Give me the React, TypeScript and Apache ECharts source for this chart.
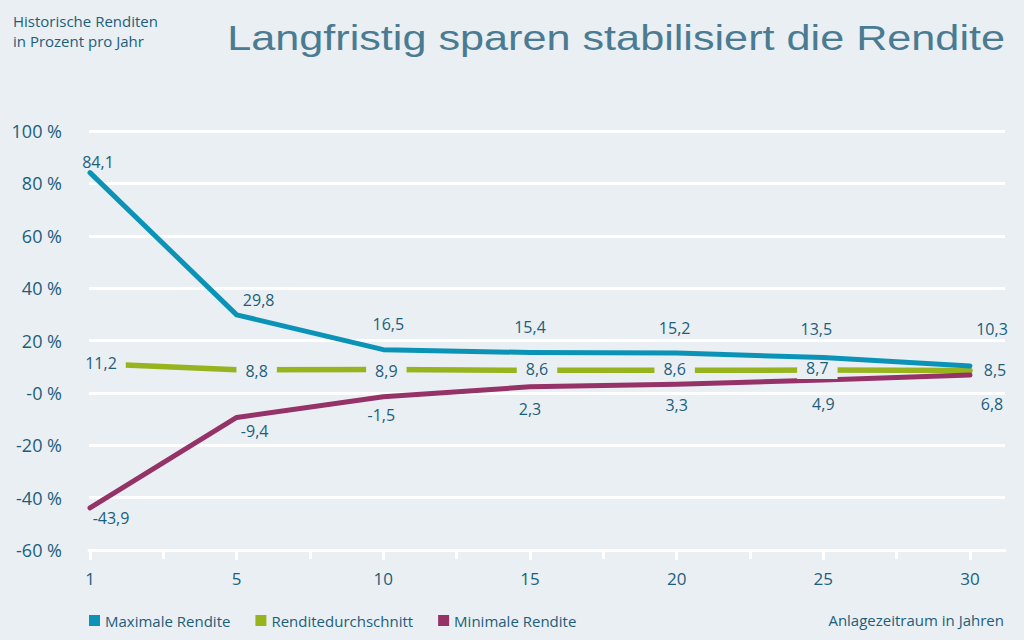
import React, { useEffect, useRef } from 'react';
import * as echarts from 'echarts';

// Anlagezeitraum in Jahren
const years = ['1', '5', '10', '15', '20', '25', '30'];

// Renditen in Prozent pro Jahr
const maxRendite = [84.1, 29.8, 16.5, 15.4, 15.2, 13.5, 10.3];
const durchschnitt = [11.2, 8.8, 8.9, 8.6, 8.6, 8.7, 8.5];
const minRendite = [-43.9, -9.4, -1.5, 2.3, 3.3, 4.9, 6.8];

const yTicks = { min: -60, max: 100, interval: 20 };

// label placement relative to each point (styling only)
const maxOffsets = [[8, -11], [22, -15], [5, -26], [0, -26], [-2, -25], [-7, -29], [22, -37]];
const avgOffsets = [[11, -1], [20, 1], [3, 1], [7, -1], [-2, -1], [-6, -2], [25, -1]];
const minOffsets = [[21, 10], [18, 14], [-2, 18], [0, 22], [0, 21], [0, 24], [22, 29]];

const BG = '#e9eff3';
const TEXT = '#1d5e7b';
const FONT = '"Open Sans", "Noto Sans", sans-serif';

const App: React.FC = () => {
    const chartRef = useRef<HTMLDivElement>(null);

    useEffect(() => {
        if (!chartRef.current) return;

        const chart = echarts.init(chartRef.current, null, { renderer: 'svg' });

        const makeData = (values: number[], offsets: number[][]) =>
            values.map((v, i) => ({
                value: [i, v],
                label: { offset: offsets[i] }
            }));

        const labelBase = {
            show: true,
            position: 'inside',
            color: TEXT,
            fontSize: 16,
            fontFamily: FONT,
            formatter: (p: any) => String(p.value[1]).replace('.', ',')
        };

        const option: echarts.EChartsOption = {
            animation: false,
            backgroundColor: BG,
            textStyle: { fontFamily: FONT },
            title: {
                text: 'Historische Renditen\nin Prozent pro Jahr',
                left: 8,
                top: 6,
                textStyle: {
                    color: TEXT,
                    fontSize: 15,
                    fontWeight: 'normal',
                    fontFamily: FONT,
                    lineHeight: 20
                }
            },
            graphic: [
                {
                    type: 'text',
                    x: 1005,
                    y: 37,
                    scaleX: 1.2,
                    style: {
                        text: 'Langfristig sparen stabilisiert die Rendite',
                        fill: '#4a7b92',
                        font: '36px "Liberation Sans", Arial, sans-serif',
                        align: 'right',
                        verticalAlign: 'middle',
                        textAlign: 'right',
                        textVerticalAlign: 'middle'
                    } as any
                },
                {
                    type: 'text',
                    x: 1004,
                    y: 620,
                    style: {
                        text: 'Anlagezeitraum in Jahren',
                        fill: TEXT,
                        font: `15px ${FONT}`,
                        align: 'right',
                        verticalAlign: 'middle',
                        textAlign: 'right',
                        textVerticalAlign: 'middle'
                    } as any
                }
            ],
            legend: {
                left: 84,
                top: 608,
                icon: 'rect',
                itemWidth: 11,
                itemHeight: 11,
                itemGap: 25,
                textStyle: { color: TEXT, fontSize: 15, fontFamily: FONT },
                data: ['Maximale Rendite', 'Renditedurchschnitt', 'Minimale Rendite']
            },
            grid: [
                { left: 89, right: 19, top: 131, bottom: 90 },
                { left: 90, right: 54, top: 131, bottom: 90 }
            ],
            xAxis: [
                {
                    gridIndex: 0,
                    type: 'value',
                    min: 0,
                    max: 1,
                    axisLine: { show: true, onZero: false, lineStyle: { color: '#ffffff', width: 3 } },
                    axisTick: { show: false },
                    axisLabel: { show: false },
                    splitLine: { show: false }
                },
                {
                    gridIndex: 1,
                    type: 'value',
                    min: 0,
                    max: years.length - 1,
                    interval: 1,
                    axisLine: { show: false, onZero: false },
                    axisTick: { show: true, length: 10, lineStyle: { color: '#ffffff', width: 3 } },
                    minorTick: { show: true, splitNumber: 2, length: 9, lineStyle: { color: '#ffffff', width: 3 } },
                    axisLabel: {
                        color: TEXT,
                        fontSize: 17,
                        fontFamily: FONT,
                        margin: 20,
                        formatter: (v: number) => years[v] ?? ''
                    },
                    splitLine: { show: false },
                    minorSplitLine: { show: false }
                }
            ],
            yAxis: [
                {
                    gridIndex: 0,
                    type: 'value',
                    ...yTicks,
                    axisLine: { show: false },
                    axisTick: { show: false },
                    axisLabel: {
                        color: TEXT,
                        fontSize: 18,
                        fontFamily: FONT,
                        margin: 27,
                        formatter: (v: number) => (v === 0 ? '-0 %' : `${v} %`)
                    },
                    splitLine: { show: true, lineStyle: { color: '#ffffff', width: 3 } }
                },
                {
                    gridIndex: 1,
                    type: 'value',
                    ...yTicks,
                    show: false,
                    splitLine: { show: false }
                }
            ],
            series: [
                {
                    name: 'Maximale Rendite',
                    type: 'line',
                    xAxisIndex: 1,
                    yAxisIndex: 1,
                    data: makeData(maxRendite, maxOffsets),
                    symbol: 'circle',
                    symbolSize: 2,
                    showSymbol: true,
                    color: '#0b93b7',
                    lineStyle: { width: 5, color: '#0b93b7', cap: 'round', join: 'round' },
                    label: labelBase as any,
                    emphasis: { disabled: true },
                    z: 3
                },
                {
                    name: 'Renditedurchschnitt',
                    type: 'line',
                    xAxisIndex: 1,
                    yAxisIndex: 1,
                    data: makeData(durchschnitt, avgOffsets),
                    symbol: 'circle',
                    symbolSize: 2,
                    showSymbol: true,
                    color: '#97b41f',
                    lineStyle: { width: 5.5, color: '#97b41f', cap: 'round', join: 'round' },
                    label: { ...labelBase, backgroundColor: BG, padding: [3, 9] } as any,
                    emphasis: { disabled: true },
                    z: 2
                },
                {
                    name: 'Minimale Rendite',
                    type: 'line',
                    xAxisIndex: 1,
                    yAxisIndex: 1,
                    data: makeData(minRendite, minOffsets),
                    symbol: 'circle',
                    symbolSize: 2,
                    showSymbol: true,
                    color: '#953267',
                    lineStyle: { width: 5, color: '#953267', cap: 'round', join: 'round' },
                    label: labelBase as any,
                    emphasis: { disabled: true },
                    z: 2
                }
            ]
        };

        chart.setOption(option);

        return () => {
            chart.dispose();
        };
    }, []);

    return (
        <div
            ref={chartRef}
            style={{
                position: 'fixed',
                left: 0,
                top: 0,
                width: '1024px',
                height: '640px'
            }}
        />
    );
};

export default App;
